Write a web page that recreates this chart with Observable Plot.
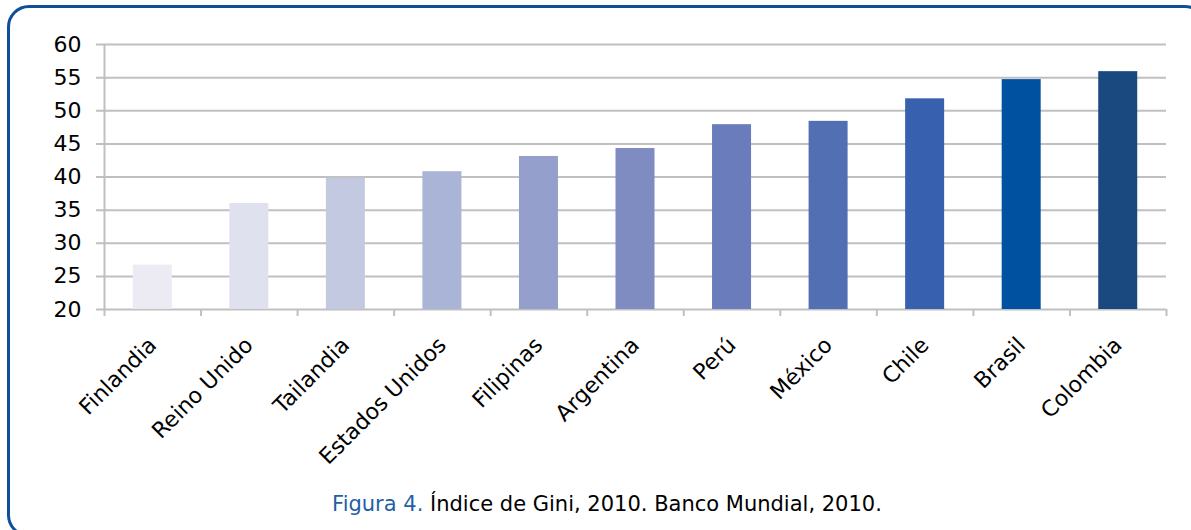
<!DOCTYPE html>
<html>
<head>
<meta charset="utf-8">
<script src="https://cdn.jsdelivr.net/npm/d3@7"></script>
<script src="https://cdn.jsdelivr.net/npm/@observablehq/plot@0.6"></script>
<style>
  html, body { margin: 0; padding: 0; background: #ffffff; overflow: hidden; }
  #wrap { position: relative; width: 1191px; height: 530px; overflow: hidden; }
  #frame { position: absolute; left: 7px; top: 5px; width: 1200px; height: 532px;
           border: 3px solid #0f4f9a; border-radius: 22px; box-sizing: border-box; }
  #chart { position: absolute; left: 0; top: 0; }
  #caption { position: absolute; left: 0; top: 494px; width: 1214px; text-align: center;
             font-family: "DejaVu Sans", sans-serif; font-size: 21px; line-height: 21px; color: #000; }
  #caption .fig { color: #1f5fa5; }
</style>
</head>
<body>
<div id="wrap">
  <div id="frame"></div>
  <div id="chart"></div>
  <div id="caption"><span class="fig">Figura 4.</span> Índice de Gini, 2010. Banco Mundial, 2010.</div>
</div>
<script>
const categories = ["Finlandia", "Reino Unido", "Tailandia", "Estados Unidos", "Filipinas", "Argentina", "Perú", "México", "Chile", "Brasil", "Colombia"];
const values = [26.7, 36.0, 39.8, 40.8, 43.1, 44.3, 47.9, 48.4, 51.8, 54.7, 55.9];
const colors = ["#ecebf4", "#e0e1ee", "#c4c9e2", "#aab4d6", "#949fcb", "#7f8cc2", "#6a7cbb", "#536fb3", "#3760ae", "#0151a1", "#1a4980"];
const yTicks = [20, 25, 30, 35, 40, 45, 50, 55, 60];

const W = 1191, H = 460, mL = 104, mR = 25, mT = 44, mB = 151;
const step = (W - mL - mR) / categories.length;
const baseline = yTicks[0];
const grid = "#c0c0c0";

const data = categories.map((c, i) => ({country: c, gini: values[i], color: colors[i]}));

const chart = Plot.plot({
  width: W, height: H,
  marginLeft: mL, marginRight: mR, marginTop: mT, marginBottom: mB,
  style: {fontFamily: "DejaVu Sans", fontSize: "22px", color: "#000", background: "transparent", overflow: "visible"},
  x: {type: "band", domain: categories, paddingInner: 0.596, paddingOuter: 0.298, round: false, axis: null},
  y: {domain: [yTicks[0], yTicks[yTicks.length - 1]], axis: null},
  color: {type: "identity"},
  marks: [
    Plot.ruleY(yTicks, {y: d => d, stroke: grid, strokeWidth: 2, insetLeft: -8}),
    Plot.ruleX([categories[0]], {x: d => d, y1: () => yTicks[yTicks.length - 1], y2: () => baseline, insetBottom: -7, dx: -step / 2, stroke: grid, strokeWidth: 2}),
    Plot.ruleX(categories, {x: d => d, y1: () => baseline, y2: () => baseline, insetBottom: -7, dx: step / 2, stroke: grid, strokeWidth: 2}),
    Plot.barY(data, {x: "country", y1: () => baseline, y2: "gini", fill: d => d.color}),
    Plot.text(yTicks, {y: d => d, text: d => String(d), frameAnchor: "left", textAnchor: "end", dx: -23, fontSize: 22, fill: "#000"}),
    Plot.text(categories, {x: d => d, y: () => baseline, text: d => d, rotate: -45, textAnchor: "end", dy: 32, dx: 0, fontSize: 22, fill: "#000"})
  ]
});
document.getElementById("chart").appendChild(chart);
</script>
</body>
</html>
